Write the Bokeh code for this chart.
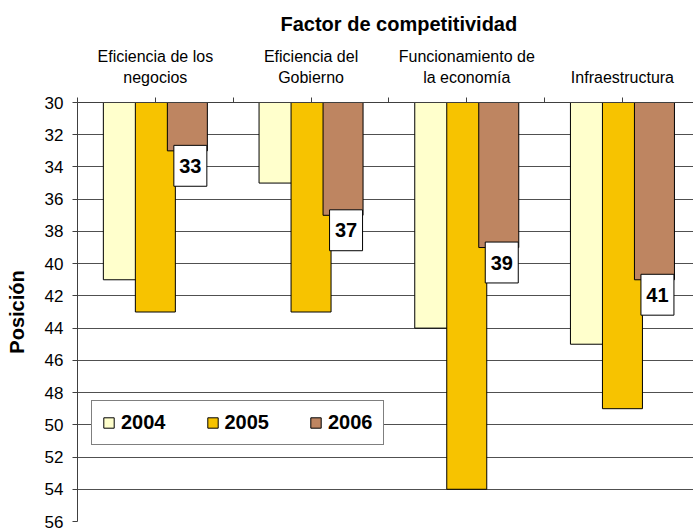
from bokeh.plotting import figure
from bokeh.models import (Range1d, FixedTicker, LinearAxis, Legend, LegendItem,
                          Title, ColumnDataSource)
from bokeh.core.properties import value
from bokeh.embed import file_html
from bokeh.resources import INLINE

# ---- data ----
categories = ["Eficiencia de los\nnegocios", "Eficiencia del\nGobierno",
              "Funcionamiento de\nla economía", "Infraestructura"]
years = ["2004", "2005", "2006"]
v2004 = [41, 35, 44, 45]
v2005 = [43, 43, 54, 49]
v2006 = [33, 37, 39, 41]
labels2006 = ["33", "37", "39", "41"]
y_ticks = [30, 32, 34, 36, 38, 40, 42, 44, 46, 48, 50, 52, 54, 56]
colors = ["#FFFFCC", "#F7C300", "#BE8561"]

FONT = "Liberation Sans"
W, H = 693, 530
B_LEFT, B_TOP, B_BOTTOM = 77, 101, 9
frame_w = W - B_LEFT
frame_h = H - B_TOP - B_BOTTOM
px_x = 155.7                      # pixels per category
x_end = frame_w / px_x
y_lo, y_hi = y_ticks[-1], y_ticks[0]
px_y = frame_h / (y_lo - y_hi)

p = figure(width=W, height=H, output_backend="svg", toolbar_location=None,
           x_range=Range1d(0, x_end), y_range=Range1d(y_lo, y_hi),
           x_axis_location=None, y_axis_location="left",
           min_border_left=B_LEFT, min_border_right=0,
           min_border_top=B_TOP, min_border_bottom=B_BOTTOM)
p.outline_line_color = None
p.background_fill_color = "white"
p.xgrid.visible = False

# y axis
yax = p.yaxis[0]
yax.ticker = FixedTicker(ticks=y_ticks)
yax.major_label_text_font = FONT
yax.major_label_text_font_size = "17px"
yax.major_label_text_color = "black"
yax.major_tick_out = 5
yax.major_tick_in = 0
yax.minor_tick_out = 0
yax.minor_tick_in = 0
yax.major_label_standoff = 9
yax.axis_line_color = "#404040"
yax.major_tick_line_color = "#404040"
yax.axis_label = "Posición"
yax.axis_label_text_font = FONT
yax.axis_label_text_font_size = "20px"
yax.axis_label_text_font_style = "bold"
yax.axis_label_text_color = "black"
yax.axis_label_standoff = 14

p.ygrid.ticker = FixedTicker(ticks=y_ticks)
p.ygrid.grid_line_color = "#505050"
p.ygrid.grid_line_width = 1

# top category axis
centers = [i + 0.5 for i in range(len(categories))]
bounds = [float(i) for i in range(len(categories) + 1)]
top = LinearAxis(ticker=FixedTicker(ticks=centers, minor_ticks=bounds))
top.major_label_overrides = {c: lab for c, lab in zip(centers, categories)}
top.major_label_text_font = FONT
top.major_label_text_font_size = "16px"
top.major_label_text_color = "black"
top.major_label_text_line_height = 1.2
top.major_label_standoff = 12
top.major_tick_out = 5
top.major_tick_in = 0
top.minor_tick_out = 5
top.minor_tick_in = 0
top.axis_line_color = "#404040"
top.major_tick_line_color = "#404040"
top.minor_tick_line_color = "#404040"
p.add_layout(top, "above")

# title
p.title = Title(text="Factor de competitividad", align="left", offset=203,
                text_font=FONT, text_font_size="20px", text_font_style="bold",
                text_color="black", standoff=21)

# bars
bar_w = 40 / px_x
step = 32 / px_x
series = [v2004, v2005, v2006]
renderers = []
for k, (vals, col) in enumerate(zip(series, colors)):
    xs = [c + (k - 1) * step for c in centers]
    src = ColumnDataSource(dict(x=xs, bottom=vals, top=[y_hi] * len(vals)))
    r = p.vbar(x="x", width=bar_w, top="top", bottom="bottom", source=src,
               fill_color=col, line_color="black", line_width=1)
    renderers.append(r)

# data labels for 2006
lx = [c + step + 3 / px_x for c in centers]
ly = [v + 15 / px_y for v in v2006]
lsrc = ColumnDataSource(dict(x=lx, y=ly, t=labels2006))
p.rect(x="x", y="y", width=33 / px_x, height=41 / px_y, source=lsrc,
       fill_color="white", line_color="black", line_width=1)
p.text(x="x", y="y", text="t", source=lsrc, text_align="center",
       text_baseline="middle", text_font=value(FONT), text_font_size="20px",
       text_font_style="bold", text_color="black")

# legend
legend = Legend(items=[LegendItem(label=y, renderers=[r]) for y, r in zip(years, renderers)],
                orientation="horizontal", location=(14, 76),
                glyph_width=13, glyph_height=13, label_standoff=6, spacing=40,
                padding=10, margin=0,
                label_text_font=FONT, label_text_font_size="20px",
                label_text_font_style="bold", label_text_color="black",
                border_line_color="black", border_line_width=1,
                background_fill_color="white", background_fill_alpha=1)
p.add_layout(legend, "center")

open("out.html", "w").write(file_html(p, INLINE))
